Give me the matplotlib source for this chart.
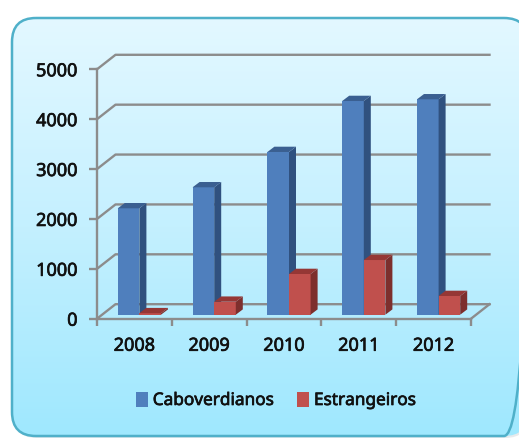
import numpy as np
import matplotlib
matplotlib.use("Agg")
import matplotlib.pyplot as plt
import matplotlib.patheffects as pe
from matplotlib.patches import FancyBboxPatch, Polygon, Patch

W, H = 519, 440

years = ["2008", "2009", "2010", "2011", "2012"]
caboverdianos = [2133, 2554, 3262, 4284, 4318]
estrangeiros = [30, 260, 816, 1096, 375]
y_ticks = [0, 1000, 2000, 3000, 4000, 5000]

plt.rcParams['font.family'] = ['Noto Sans', 'DejaVu Sans']

fig = plt.figure(figsize=(W / 100, H / 100), dpi=100, facecolor="white")

# background card, in pixel coords
bg = fig.add_axes([0, 0, 1, 1])
bg.set_xlim(0, W)
bg.set_ylim(H, 0)
bg.axis("off")
shadow = FancyBboxPatch((13, 20), 516, 418, boxstyle="round,pad=0,rounding_size=24",
                        fc="#d8dde0", ec="none", alpha=0.6)
bg.add_patch(shadow)
card = FancyBboxPatch((12, 18), 516, 418, boxstyle="round,pad=0,rounding_size=24",
                      fc="none", ec="none")
bg.add_patch(card)
grad = np.linspace(0, 1, 256).reshape(-1, 1)
cmap = matplotlib.colors.LinearSegmentedColormap.from_list("card", ["#e3f8ff", "#c4f0ff", "#9fe8fe"])
im = bg.imshow(grad, extent=(12, 528, 436, 18), cmap=cmap, aspect="auto", zorder=1)
im.set_clip_path(card)
bg.set_xlim(0, W)
bg.set_ylim(H, 0)
border = FancyBboxPatch((12, 18), 516, 418, boxstyle="round,pad=0,rounding_size=24",
                        fc="none", ec="#4fb0c9", lw=1.8, zorder=2)
bg.add_patch(border)

# plot axes = front plane of the fake 3d box
left, right, top, bottom = 97, 471, 69.3, 318.7
ax = fig.add_axes([left / W, 1 - bottom / H, (right - left) / W, (bottom - top) / H])
ax.patch.set_alpha(0)
ax.set_xlim(0, 5)
ax.set_ylim(0, 5000)

px_x = 5 / (right - left)
px_y = 5000 / (bottom - top)
depth_x = 18.5 * px_x
depth_y = 14.5 * px_y

grey = "#8c8c8c"
for v in y_ticks:
    ax.plot([0, depth_x, 5 + depth_x], [v, v + depth_y, v + depth_y], color=grey, lw=1.7,
            clip_on=False, zorder=1, solid_joinstyle="round")
ax.plot([5, 5 + depth_x], [0, depth_y], color=grey, lw=1.7, clip_on=False, zorder=1)

# bars
bar_w = 21.6 * px_x
shift_x = 5 * px_x
base = 4 * px_y
side_x = 7 * px_x
side_y = 5.3 * px_y


def draw_bars(values, x_off, face, side, roof, z):
    for i, v in enumerate(values):
        x0 = i + 0.5 + shift_x + x_off
        x1 = x0 + bar_w
        t = base + v
        ax.bar(x0, v, width=bar_w, bottom=base, align="edge", color=face, zorder=z, clip_on=False)
        ax.add_patch(Polygon([(x1, base), (x1 + side_x, base + side_y), (x1 + side_x, t + side_y), (x1, t)],
                             fc=side, ec="none", zorder=z, clip_on=False))
        ax.add_patch(Polygon([(x0, t), (x0 + side_x, t + side_y), (x1 + side_x, t + side_y), (x1, t)],
                             fc=roof, ec="none", zorder=z, clip_on=False))


draw_bars(caboverdianos, -bar_w, "#4f7fbd", "#30517f", "#3a5f91", 3)
draw_bars(estrangeiros, 0, "#c0504d", "#7d2f2d", "#953735", 4)

for s in ["top", "right"]:
    ax.spines[s].set_visible(False)
for s in ["left", "bottom"]:
    ax.spines[s].set_color(grey)
    ax.spines[s].set_linewidth(1.7)
    ax.spines[s].set_zorder(2)

ax.set_yticks(y_ticks)
ax.set_xticks(range(6))
ax.set_xticklabels([])
ax.set_xticks(np.arange(5) + 0.5, labels=years, minor=True)
ax.tick_params(axis="y", length=6, width=1.7, color=grey, pad=8, labelsize=13, labelcolor="#111111")
ax.tick_params(axis="x", which="major", length=5, width=1.7, color=grey)
ax.tick_params(axis="x", which="minor", length=0, pad=13, labelsize=13, labelcolor="#111111")

handles = [Patch(fc="#4f7fbd", ec="none", label="Caboverdianos"),
           Patch(fc="#c0504d", ec="none", label="Estrangeiros")]
leg = fig.legend(handles=handles, loc="center", bbox_to_anchor=(276 / W, 1 - 400 / H), ncol=2, frameon=False,
                 fontsize=12.4, labelcolor="#111111", handlelength=0.7, handleheight=0.95, handletextpad=0.3,
                 columnspacing=1.3, borderpad=0)

# the original text looks a bit heavier
stroke = [pe.withStroke(linewidth=0.5, foreground="#111111")]
for t in ax.get_yticklabels() + ax.get_xticklabels(minor=True) + leg.get_texts():
    t.set_path_effects(stroke)

fig.savefig("out.png", dpi=100)
